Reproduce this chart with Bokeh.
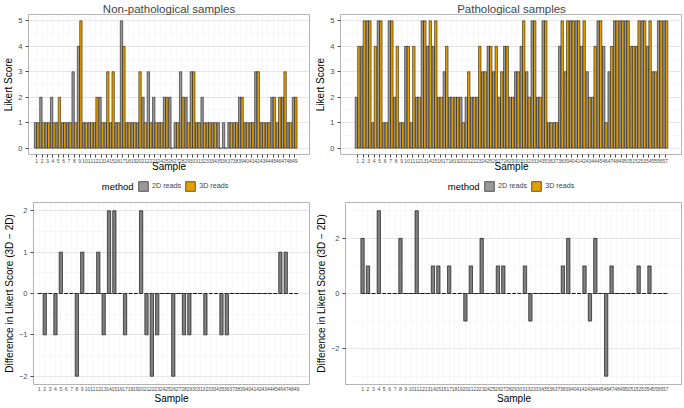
from bokeh.plotting import figure
from bokeh.layouts import column, row
from bokeh.models import ColumnDataSource, FixedTicker, Legend, LegendItem, Range1d
from bokeh.core.properties import value
from bokeh.transform import dodge
from bokeh.embed import file_html
from bokeh.resources import INLINE

# ---------------- data ----------------
samples_np = list(range(1, 50))
np_2d = [1, 2, 1, 2, 1, 1, 1, 3, 4, 1, 1, 1, 2, 1, 1, 1, 5, 1, 1, 1,
         2, 3, 2, 1, 2, 2, 1, 3, 2, 3, 1, 2, 1, 1, 1, 1, 1, 1, 2, 1,
         1, 3, 1, 1, 2, 1, 2, 1, 2]
np_3d = [1, 1, 1, 1, 2, 1, 1, 1, 5, 1, 1, 2, 1, 3, 3, 1, 4, 1, 1, 3,
         1, 1, 1, 1, 2, 0, 1, 2, 1, 3, 1, 1, 1, 1, 0, 0, 1, 1, 2, 1,
         1, 3, 1, 1, 2, 2, 3, 1, 2]

samples_p = list(range(1, 58))
p_2d = [2, 4, 5, 1, 5, 1, 5, 2, 1, 4, 1, 2, 5, 4, 4, 2, 3, 2, 2, 2,
        2, 2, 2, 3, 4, 3, 2, 4, 2, 3, 4, 3, 5, 2, 5, 1, 1, 4, 3, 5,
        5, 4, 3, 2, 5, 4, 3, 5, 5, 5, 4, 4, 5, 4, 3, 5, 5]
p_3d = [4, 5, 5, 4, 5, 1, 5, 4, 1, 4, 4, 2, 5, 5, 5, 2, 4, 2, 2, 1,
        3, 2, 4, 3, 4, 4, 3, 4, 2, 3, 5, 2, 5, 2, 5, 1, 1, 5, 5, 5,
        5, 5, 2, 4, 5, 1, 4, 5, 5, 5, 4, 5, 5, 5, 3, 5, 5]

methods = ["2D reads", "3D reads"]
legend_title = "method"
score_ticks = [0, 1, 2, 3, 4, 5]

# ---------------- style ----------------
FONT = "Liberation Sans"
C2D = "#999999"
C3D = "#E69F00"
CDIFF = "#7F7F7F"


def style(p, xticks, yticks, yminor, xlab_standoff):
    p.xaxis.ticker = FixedTicker(ticks=xticks)
    p.yaxis.ticker = FixedTicker(ticks=yticks, minor_ticks=yminor)
    p.axis.axis_line_color = None
    p.axis.minor_tick_line_color = None
    p.axis.major_tick_in = 0
    p.axis.major_tick_out = 3
    p.axis.major_tick_line_color = "#444444"
    p.axis.major_label_text_color = "#4D4D4D"
    p.axis.major_label_text_font = FONT
    p.axis.axis_label_text_font = FONT
    p.axis.axis_label_text_font_style = "normal"
    p.axis.axis_label_text_font_size = "10px"
    p.axis.axis_label_text_color = "#000000"
    p.xaxis.major_label_text_font_size = "5px"
    p.yaxis.major_label_text_font_size = "7.5px"
    p.xaxis.major_label_standoff = 1
    p.yaxis.major_label_standoff = 2
    p.xaxis.axis_label_standoff = xlab_standoff
    p.yaxis.axis_label_standoff = 1
    p.xgrid.grid_line_color = "#EFEFEF"
    p.xgrid.grid_line_width = 0.5
    p.ygrid.grid_line_color = "#E0E0E0"
    p.ygrid.grid_line_width = 0.8
    p.ygrid.minor_grid_line_color = "#F0F0F0"
    p.ygrid.minor_grid_line_width = 0.5
    p.outline_line_color = "#B3B3B3"
    p.outline_line_width = 1
    p.background_fill_color = "white"
    p.border_fill_color = "white"
    p.title.text_font = FONT
    p.title.text_font_size = "11.5px"
    p.title.text_font_style = "normal"
    p.title.align = "center"
    p.title.standoff = 0


def top_panel(title, samples, v2, v3, xr, width, height, mbr):
    src = ColumnDataSource(dict(sample=samples, v2=v2, v3=v3))
    p = figure(width=width, height=height, title=title,
               x_range=Range1d(*xr), y_range=Range1d(-0.25, 5.25),
               output_backend="svg", toolbar_location=None,
               min_border_left=0, min_border_right=mbr,
               min_border_top=0, min_border_bottom=0,
               x_axis_label="Sample", y_axis_label="Likert Score")
    p.vbar(x=dodge("sample", -0.225), top="v2", width=0.45, bottom=0, source=src,
           fill_color=C2D, line_color="black", line_width=0.5)
    p.vbar(x=dodge("sample", 0.225), top="v3", width=0.45, bottom=0, source=src,
           fill_color=C3D, line_color="black", line_width=0.5)
    style(p, samples, score_ticks, [0.5, 1.5, 2.5, 3.5, 4.5], -5)
    return p


def legend_panel(width, height, center):
    p = figure(width=width, height=height, x_range=Range1d(0, width), y_range=Range1d(0, height),
               output_backend="svg", toolbar_location=None,
               x_axis_type=None, y_axis_type=None,
               min_border_left=0, min_border_right=0,
               min_border_top=0, min_border_bottom=0)
    p.grid.visible = False
    p.outline_line_color = None
    p.background_fill_color = "white"
    p.border_fill_color = "white"
    # legend proxies: a single point kept outside the visible range
    proxy = ColumnDataSource(dict(x=[-width], top=[0]))
    r2 = p.vbar(x="x", top="top", width=1, source=proxy,
                fill_color=C2D, line_color="#333333", line_width=0.8)
    r3 = p.vbar(x="x", top="top", width=1, source=proxy,
                fill_color=C3D, line_color="#333333", line_width=0.8)
    items_start = center - 27
    leg = Legend(items=[LegendItem(label=methods[0], renderers=[r2]),
                        LegendItem(label=methods[1], renderers=[r3])],
                 orientation="horizontal", location=(items_start, (height - 12) / 2),
                 glyph_width=12, glyph_height=12,
                 label_text_font=FONT, label_text_font_size="7.2px",
                 label_height=12,
                 border_line_color=None, background_fill_alpha=0,
                 padding=0, margin=0, spacing=3, label_standoff=3)
    p.add_layout(leg)
    p.text(x=[items_start - 4], y=[height / 2], text=[legend_title],
           text_align="right", text_baseline="middle",
           text_font=value(FONT), text_font_size="9.5px", text_color="black")
    return p


def diff_panel(samples, v2, v3, xr, yr, yticks, yminor, width, height, mbr):
    diff = [b - a for a, b in zip(v2, v3)]
    src = ColumnDataSource(dict(sample=samples, diff=diff))
    p = figure(width=width, height=height,
               x_range=Range1d(*xr), y_range=Range1d(*yr),
               output_backend="svg", toolbar_location=None,
               min_border_left=0, min_border_right=mbr,
               min_border_top=5, min_border_bottom=0,
               x_axis_label="Sample", y_axis_label="Difference in Likert Score (3D \u2212 2D)")
    p.line(x=[samples[0], samples[-1]], y=[0, 0], line_color="#222222",
           line_width=0.8, line_dash="3 2")
    p.vbar(x="sample", top="diff", bottom=0, width=0.62, source=src,
           fill_color=CDIFF, line_color="black", line_width=0.6)
    style(p, samples, yticks, yminor, -1)
    p.xaxis.major_tick_line_color = None
    p.xaxis.major_tick_out = 1
    return p


WL, WR = 312, 370
HT, HL, HB = 174, 23, 209

p1 = top_panel("Non-pathological samples", samples_np, np_2d, np_3d,
               (-0.53, 51.76), WL, HT, 3)
p2 = top_panel("Pathological samples", samples_p, p_2d, p_3d,
               (-2.12, 60.12), WR, HT, 0)
l1 = legend_panel(WL, HL, 164)
l2 = legend_panel(WR, HL, 198)
p3 = diff_panel(samples_np, np_2d, np_3d, (-0.1, 51.44), (-2.2, 2.2),
                [-2, -1, 0, 1, 2], [-1.5, -0.5, 0.5, 1.5], WL, HB, 3)
p4 = diff_panel(samples_p, p_2d, p_3d, (-2.15, 60.1), (-3.3, 3.3),
                [-2, 0, 2], [-3, -1, 1, 3], WR, HB, 0)

layout = column(row(p1, p2), row(l1, l2), row(p3, p4))
open("out.html", "w").write(file_html(layout, INLINE))
